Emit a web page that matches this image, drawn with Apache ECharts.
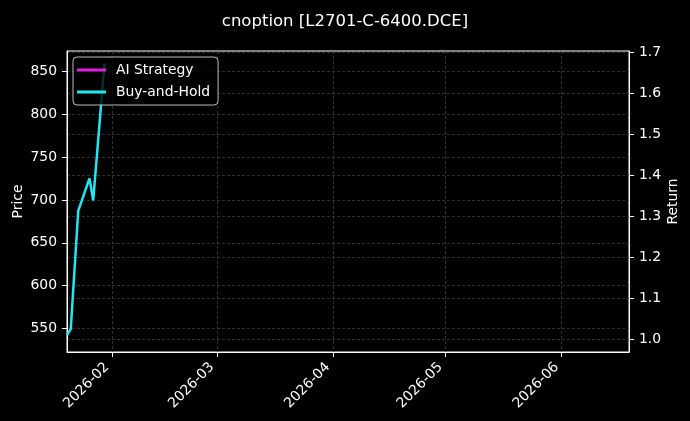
<!DOCTYPE html>
<html>
<head>
<meta charset="utf-8">
<script src="https://cdn.jsdelivr.net/npm/echarts@6/dist/echarts.min.js"></script>
<style>
html,body{margin:0;padding:0;background:#000;}
#chart{width:690px;height:421px;}
</style>
</head>
<body>
<div id="chart"></div>
<script>
// ---- data ----
var dates = ['2026-01-20', '2026-01-21', '2026-01-23', '2026-01-26', '2026-01-27', '2026-01-30'];
var buyHoldReturn = [1.0105, 1.025, 1.3135, 1.393, 1.339, 1.674];
var aiStrategyReturn = [];
var priceTicks = [550, 600, 650, 700, 750, 800, 850];
var returnTicks = [1.0, 1.1, 1.2, 1.3, 1.4, 1.5, 1.6, 1.7];
var monthTicks = ['2026-02-01', '2026-03-01', '2026-04-01', '2026-05-01', '2026-06-01'];
var xStart = '2026-01-20';
var xEnd = '2026-06-19';

function ts(d) { var p = d.split('-'); return Date.UTC(+p[0], +p[1] - 1, +p[2]); }
function pairs(ds, vs) { return vs.map(function (v, i) { return [ts(ds[i]), v]; }); }

var FONT = 'DejaVu Sans';
var FS = 13.9;
var gridLine = { show: true, lineStyle: { color: '#3c3c3c', type: [3, 2], width: 0.8 } };

var chart = echarts.init(document.getElementById('chart'), null, { renderer: 'canvas' });
chart.setOption({
  backgroundColor: '#000',
  animation: false,
  title: {
    text: 'cnoption [L2701-C-6400.DCE]',
    left: 'center',
    top: 8,
    textStyle: { color: '#fff', fontFamily: FONT, fontSize: 16.5, fontWeight: 'normal' }
  },
  grid: {
    left: 67, right: 61, top: 51, bottom: 69, containLabel: false, outerBoundsMode: 'none',
    show: true, borderColor: '#fff', borderWidth: 1, backgroundColor: 'transparent'
  },
  legend: {
    left: 73, top: 57, orient: 'vertical',
    padding: [5, 8, 5, 4], itemGap: 6,
    itemWidth: 29, itemHeight: 3, icon: 'rect',
    backgroundColor: 'rgba(0,0,0,0.8)', borderColor: '#bbb', borderWidth: 1, borderRadius: 4,
    textStyle: { color: '#fff', fontFamily: FONT, fontSize: FS, padding: [0, 0, 0, 5], lineHeight: 16 },
    data: ['AI Strategy', 'Buy-and-Hold']
  },
  xAxis: {
    type: 'value',
    min: ts(xStart), max: ts(xEnd),
    axisLine: { show: true, onZero: false, lineStyle: { color: '#fff', width: 1 } },
    axisTick: { show: true, length: 5, lineStyle: { color: '#fff' }, customValues: monthTicks.map(ts) },
    axisLabel: {
      color: '#fff', fontFamily: FONT, fontSize: FS, rotate: 45, margin: 8, padding: [0, 7, 0, 0],
      customValues: monthTicks.map(ts),
      formatter: function (v) { var d = new Date(v); var m = d.getUTCMonth() + 1; return d.getUTCFullYear() + '-' + (m < 10 ? '0' + m : m); }
    },
    splitLine: gridLine
  },
  yAxis: [
    {
      type: 'value', position: 'left',
      min: 522.3, max: 874.2,
      name: 'Price', nameLocation: 'middle', nameGap: 42, nameRotate: 90, nameMoveOverlap: false,
      nameTextStyle: { color: '#fff', fontFamily: FONT, fontSize: FS },
      axisLine: { show: true, lineStyle: { color: '#fff' } },
      axisTick: { show: true, length: 5, lineStyle: { color: '#fff' }, customValues: priceTicks },
      axisLabel: { color: '#fff', fontFamily: FONT, fontSize: FS, margin: 10, customValues: priceTicks },
      splitLine: gridLine
    },
    {
      type: 'value', position: 'right',
      min: 0.969, max: 1.704,
      name: 'Return', nameLocation: 'middle', nameGap: 37, nameRotate: 90, nameMoveOverlap: false,
      nameTextStyle: { color: '#fff', fontFamily: FONT, fontSize: FS },
      axisLine: { show: true, lineStyle: { color: '#fff' } },
      axisTick: { show: true, length: 5, lineStyle: { color: '#fff' }, customValues: returnTicks },
      axisLabel: { color: '#fff', fontFamily: FONT, fontSize: FS, margin: 10, customValues: returnTicks, formatter: function (v) { return v.toFixed(1); } },
      splitLine: gridLine
    }
  ],
  series: [
    {
      name: 'AI Strategy', type: 'line', yAxisIndex: 1, showSymbol: false,
      color: '#e020e0', lineStyle: { width: 2.5, color: '#e020e0' },
      data: pairs(dates, aiStrategyReturn)
    },
    {
      name: 'Buy-and-Hold', type: 'line', yAxisIndex: 1, showSymbol: false,
      color: '#22e6f2', lineStyle: { width: 2.5, color: '#22e6f2' },
      data: pairs(dates, buyHoldReturn)
    }
  ]
});
</script>
</body>
</html>
